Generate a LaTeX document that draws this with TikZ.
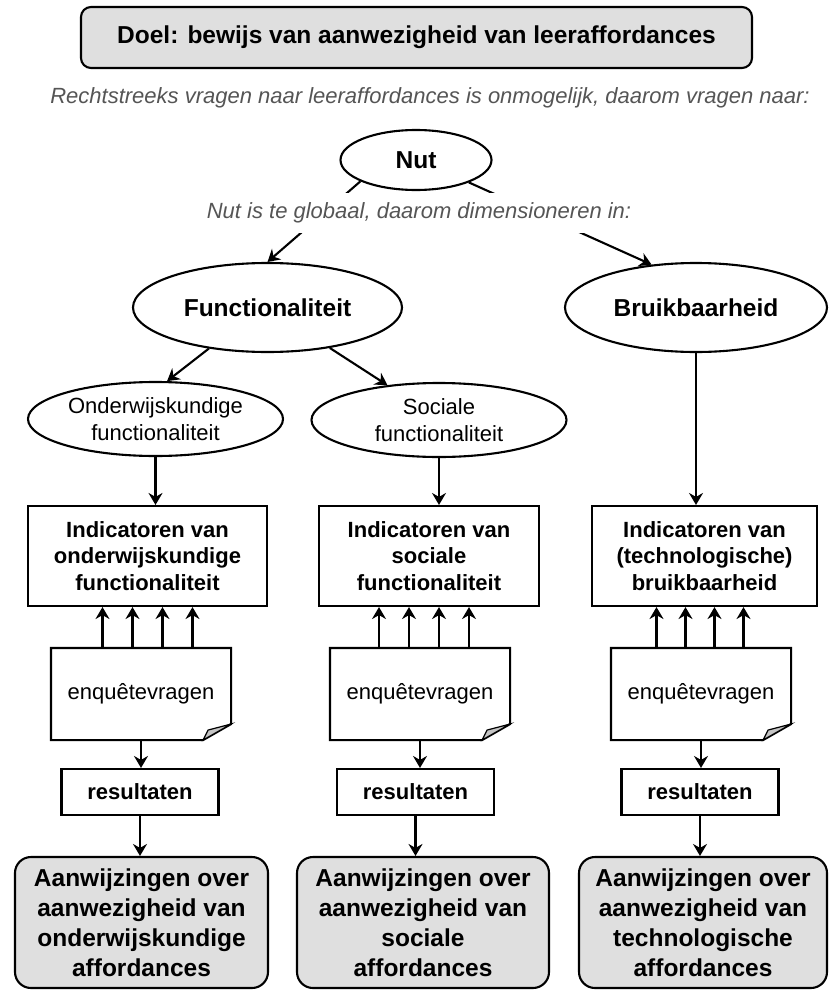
\documentclass[tikz,border=0pt]{standalone}
\usepackage{fontspec}
\setmainfont{Liberation Sans}
\usetikzlibrary{shapes.geometric,arrows.meta}

\definecolor{vakgrijs}{HTML}{DFDFDF}
\definecolor{tekstgrijs}{HTML}{555555}
\definecolor{ezelsoor}{HTML}{C4C4C4}

\tikzset{
  pijl/.style={-{Stealth[length=12pt,width=14pt,inset=4pt]}},
  grotetekst/.style={font=\bfseries\fontsize{24.5}{29.5}\selectfont},
  doel/.style={draw, fill=vakgrijs, rounded corners=10pt, minimum width=671pt, minimum height=61pt, grotetekst},
  uitleg/.style={fill=white, text=tekstgrijs, inner xsep=4pt, inner ysep=10pt, font=\itshape\fontsize{22}{26.5}\selectfont},
  dimensie/.style={draw, ellipse, inner sep=0pt, grotetekst},
  subdimensie/.style={draw, ellipse, inner sep=0pt, minimum width=255pt, minimum height=74pt, align=center, font=\fontsize{22}{27}\selectfont},
  indicator/.style={draw, minimum height=100pt, inner sep=2pt, align=center, font=\bfseries\fontsize{22}{26.5}\selectfont},
  vragen/.style={minimum width=178pt, minimum height=90pt, font=\fontsize{22}{26.5}\selectfont},
  resultaat/.style={draw, minimum width=157pt, minimum height=46pt, font=\bfseries\fontsize{22}{26.5}\selectfont},
  aanwijzing/.style={draw, fill=vakgrijs, rounded corners=16pt, minimum height=131pt, inner sep=2pt, align=center, font=\bfseries\fontsize{24.5}{30}\selectfont}
}

\begin{document}
\begin{tikzpicture}[x=1pt,y=-1pt,line width=2.1pt]
\useasboundingbox (0,0) rectangle (828,990);

% Doel
\node[doel] (doel) at (416.5,37.5) {Doel: bewijs van aanwezigheid van leeraffordances};
\node[uitleg] (vraag) at (430,98) {Rechtstreeks vragen naar leeraffordances is onmogelijk, daarom vragen naar:};

% Nut en dimensies
\node[dimensie, minimum width=151pt, minimum height=60pt] (nut) at (416,160) {Nut};
\node[dimensie, minimum width=269pt, minimum height=89pt] (func) at (267.5,307.5) {Functionaliteit};
\node[dimensie, minimum width=262pt, minimum height=89pt] (bruik) at (696,307.5) {Bruikbaarheid};

\draw[pijl] (nut.201) -- (func.north);
\draw[pijl] (nut.337) -- (bruik.136);

\node[uitleg] (globaal) at (419,213) {Nut is te globaal, daarom dimensioneren in:};

% Subdimensies
\node[subdimensie] (ow) at (155.5,419) {Onderwijskundige\\functionaliteit};
\node[subdimensie] (soc) at (439,420) {Sociale\\functionaliteit};

\draw[pijl] (func.215) -- (ow.73);
\draw[pijl] (func.327) -- (soc.146);

% Indicatoren
\node[indicator, minimum width=239pt] (ind1) at (147.5,556) {Indicatoren van\\onderwijskundige\\functionaliteit};
\node[indicator, minimum width=220pt] (ind2) at (429,556) {Indicatoren van\\sociale\\functionaliteit};
\node[indicator, minimum width=225pt] (ind3) at (704.5,556) {Indicatoren van\\(technologische)\\bruikbaarheid};

\draw[pijl] (ow) -- (ow |- ind1.north);
\draw[pijl] (soc) -- (soc |- ind2.north);
\draw[pijl] (bruik) -- (bruik |- ind3.north);

% Enquetevragen
\node[vragen] (vr1) at (141,694) {enquêtevragen};
\node[vragen] (vr2) at (420,694) {enquêtevragen};
\node[vragen] (vr3) at (701,694) {enquêtevragen};

\draw (vr1.north west) -- (vr1.north east) -- ([yshift=16pt]vr1.south east) -- ([xshift=-28pt]vr1.south east) -- (vr1.south west) -- cycle;
\draw[fill=ezelsoor, line width=1.2pt] ([yshift=16pt]vr1.south east) -- ([xshift=-23pt,yshift=10pt]vr1.south east) -- ([xshift=-28pt]vr1.south east) -- cycle;
\draw (vr2.north west) -- (vr2.north east) -- ([yshift=16pt]vr2.south east) -- ([xshift=-28pt]vr2.south east) -- (vr2.south west) -- cycle;
\draw[fill=ezelsoor, line width=1.2pt] ([yshift=16pt]vr2.south east) -- ([xshift=-23pt,yshift=10pt]vr2.south east) -- ([xshift=-28pt]vr2.south east) -- cycle;
\draw (vr3.north west) -- (vr3.north east) -- ([yshift=16pt]vr3.south east) -- ([xshift=-28pt]vr3.south east) -- (vr3.south west) -- cycle;
\draw[fill=ezelsoor, line width=1.2pt] ([yshift=16pt]vr3.south east) -- ([xshift=-23pt,yshift=10pt]vr3.south east) -- ([xshift=-28pt]vr3.south east) -- cycle;

\draw[pijl] ([xshift=-45pt]ind1.south |- vr1.north) -- ([xshift=-45pt]ind1.south);
\draw[pijl] ([xshift=-15pt]ind1.south |- vr1.north) -- ([xshift=-15pt]ind1.south);
\draw[pijl] ([xshift=15pt]ind1.south |- vr1.north) -- ([xshift=15pt]ind1.south);
\draw[pijl] ([xshift=45pt]ind1.south |- vr1.north) -- ([xshift=45pt]ind1.south);

\draw[pijl] ([xshift=-50pt]ind2.south |- vr2.north) -- ([xshift=-50pt]ind2.south);
\draw[pijl] ([xshift=-20pt]ind2.south |- vr2.north) -- ([xshift=-20pt]ind2.south);
\draw[pijl] ([xshift=10pt]ind2.south |- vr2.north) -- ([xshift=10pt]ind2.south);
\draw[pijl] ([xshift=40pt]ind2.south |- vr2.north) -- ([xshift=40pt]ind2.south);

\draw[pijl] ([xshift=-48pt]ind3.south |- vr3.north) -- ([xshift=-48pt]ind3.south);
\draw[pijl] ([xshift=-19pt]ind3.south |- vr3.north) -- ([xshift=-19pt]ind3.south);
\draw[pijl] ([xshift=10pt]ind3.south |- vr3.north) -- ([xshift=10pt]ind3.south);
\draw[pijl] ([xshift=39pt]ind3.south |- vr3.north) -- ([xshift=39pt]ind3.south);

% Resultaten
\node[resultaat] (res1) at (140,792) {resultaten};
\node[resultaat] (res2) at (415.5,792) {resultaten};
\node[resultaat] (res3) at (700,792) {resultaten};

\draw[pijl] (vr1) -- (vr1 |- res1.north);
\draw[pijl] (vr2) -- (vr2 |- res2.north);
\draw[pijl] (vr3) -- (vr3 |- res3.north);

% Aanwijzingen
\node[aanwijzing, minimum width=253pt] (aw1) at (141.5,922.5) {Aanwijzingen over\\aanwezigheid van\\onderwijskundige\\affordances};
\node[aanwijzing, minimum width=252pt] (aw2) at (423,922.5) {Aanwijzingen over\\aanwezigheid van\\sociale\\affordances};
\node[aanwijzing, minimum width=248pt] (aw3) at (703,922.5) {Aanwijzingen over\\aanwezigheid van\\technologische\\affordances};

\draw[pijl] (res1) -- (res1 |- aw1.north);
\draw[pijl] (res2) -- (res2 |- aw2.north);
\draw[pijl] (res3) -- (res3 |- aw3.north);

\end{tikzpicture}
\end{document}
